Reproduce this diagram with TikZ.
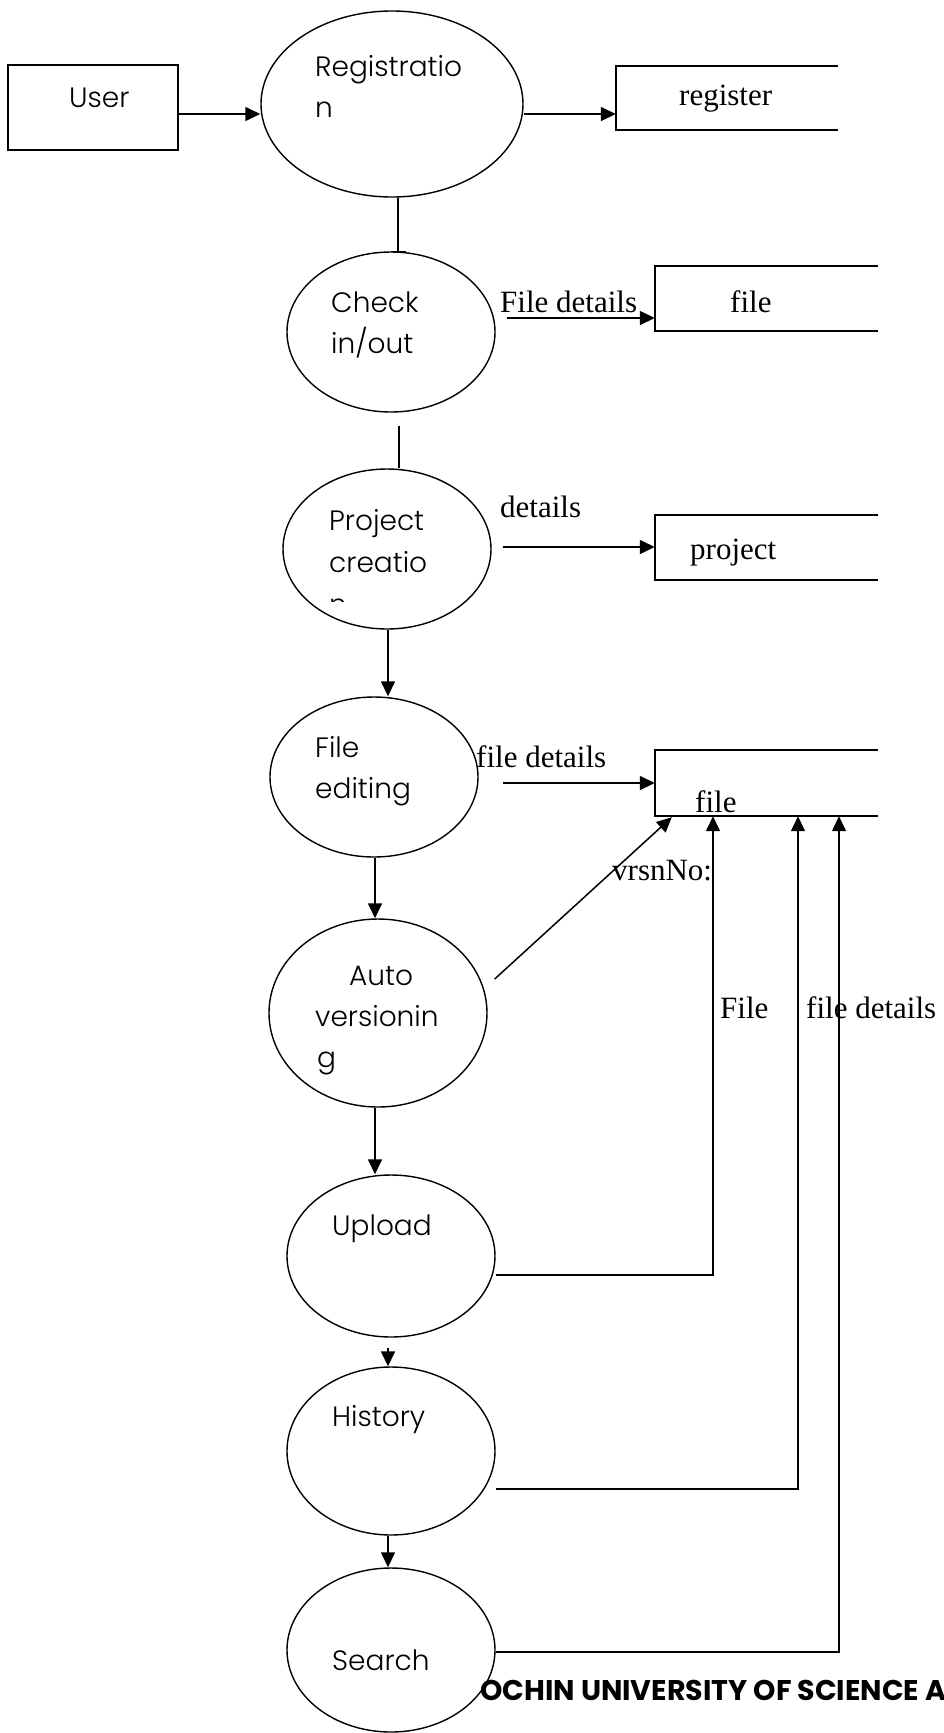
\documentclass[tikz,border=0pt]{standalone}
\usepackage{fontspec}
\setmainfont{Liberation Serif}
\newfontfamily\gothic{Poppins}[UprightFont=* Light, BoldFont=* Bold]
\usetikzlibrary{arrows.meta,calc,shapes.geometric}
\begin{document}
\begin{tikzpicture}[x=1pt,y=-1pt,
  proc/.style={draw, ellipse, line width=1.4pt, inner sep=0pt, fill=white},
  ext/.style={draw, rectangle, line width=1.6pt, inner sep=0pt},
  ptext/.style={font=\gothic\fontsize{28}{32}\selectfont, anchor=base west, inner sep=0pt},
  stext/.style={font=\fontsize{31}{36}\selectfont, anchor=base west, inner sep=0pt},
  btext/.style={font=\gothic\bfseries\fontsize{28.5}{32}\selectfont, anchor=base west, inner sep=0pt},
  storebox/.style={inner sep=0pt, minimum width=223pt, minimum height=65pt},
  storeline/.style={line width=1.8pt},
  flow/.style={line width=1.5pt, -{Triangle[length=15pt,width=14pt]}},
  plain/.style={line width=1.5pt}]
\useasboundingbox (0,0) rectangle (943,1733);

% external entity
\node[ext, minimum width=170pt, minimum height=85pt] (user) at (93,107.5) {};
\node[ptext] (usert) at (69,107) {User};

% processes
\node[proc, minimum width=262pt, minimum height=186pt] (reg) at (392,104) {};
\node[proc, minimum width=208pt, minimum height=160pt] (chk) at (391,332) {};
\node[proc, minimum width=208pt, minimum height=160pt] (prj) at (387,549) {};
\node[proc, minimum width=208pt, minimum height=160pt] (fed) at (374,777) {};
\node[proc, minimum width=218pt, minimum height=188pt] (auto) at (378,1013) {};
\node[proc, minimum width=208pt, minimum height=162pt] (upl) at (391,1256) {};
\node[proc, minimum width=208pt, minimum height=168pt] (hist) at (391,1451) {};
\node[proc, minimum width=208pt, minimum height=164pt] (srch) at (391,1650) {};

% process texts
\node[ptext] (regt1) at (315,76) {Registratio};
\node[ptext] (regt2) at (315,117) {n};
\node[ptext] (chkt1) at (331,312) {Check};
\node[ptext] (chkt2) at (331,353) {in/out};
\node[ptext] (prjt1) at (329,530) {Project};
\node[ptext] (prjt2) at (329,572) {creatio};
\begin{scope}
  \clip (320,590) rectangle (360,601);
  \node[ptext] (prjt3) at (329,614) {n};
\end{scope}
\node[ptext] (fedt1) at (315,757) {File};
\node[ptext] (fedt2) at (315,798) {editing};
\node[ptext] (autot1) at (349,985) {Auto};
\node[ptext] (autot2) at (315,1026) {versionin};
\node[ptext] (autot3) at (317,1067) {g};
\node[ptext] (uplt) at (332,1235) {Upload};
\node[ptext] (histt) at (332,1426) {History};
\node[ptext] (srcht) at (332,1670) {Search};

% data stores
\node[storebox, minimum width=222pt, minimum height=64pt] (register) at (727,98) {};
\node[storebox] (file1) at (766.5,298.5) {};
\node[storebox] (prjstore) at (766.5,547.5) {};
\node[storebox, minimum height=66pt] (file2) at (766.5,783) {};
\foreach \s in {register,file1,prjstore,file2}
  \draw[storeline] (\s.north east) -- (\s.north west) -- (\s.south west) -- (\s.south east);
\node[stext] (registert) at (679,105) {register};
\node[stext] (file1t) at (730,312) {file};
\node[stext] (prjstoret) at (690,559) {project};
\node[stext] (file2t) at (695,812) {file};

% flows
\draw[flow] (user.east |- 0,114) -- (reg.west |- 0,114);
\draw[flow] (reg.east |- 0,114) -- (register.west |- 0,114);
\draw[plain] (reg.south -| 398,0) -- (chk.north -| 398,0);
\draw[plain] (chk.north) -- ++(15,0);
\draw[flow] ($(chk.east)+(11,-14)$) -- (file1.west |- 0,318);
\draw[plain] ($(chk.south)+(8,13)$) -- (prj.north -| 399,0);
\draw[flow] ($(prj.east)+(11,-2)$) -- (prjstore.west |- 0,547);
\draw[flow] (prj.south -| 388,0) -- (fed.north -| 388,0);
\draw[flow] ($(fed.east)+(24,6)$) -- (file2.west);
\draw[flow] (fed.south -| 375,0) -- (auto.north -| 375,0);
\draw[flow] ($(auto.east)+(7,-34)$) -- ($(file2.south west)+(17,1)$);
\draw[flow] (auto.south -| 375,0) -- (upl.north -| 375,0);
\draw[flow] (upl.east |- 0,1275) -| (file2.south -| 713,0);
\draw[flow] ($(upl.south)+(-3,10)$) -- (hist.north -| 388,0);
\draw[flow] (hist.east |- 0,1489) -| (file2.south -| 798,0);
\draw[flow] (hist.south -| 388,0) -- (srch.north -| 388,0);
\draw[flow] (srch.east |- 0,1652) -| (file2.south -| 839,0);

% flow labels
\node[stext] (l1) at (500,312) {File details};
\node[stext] (l2) at (500,517) {details};
\node[stext] (l3) at (476,767) {file details};
\node[stext] (l4) at (612,880) {vrsnNo:};
\node[stext] (l5) at (720,1018) {File};
\node[stext] (l6) at (806,1018) {file details};

% footer text
\node[btext] (footer) at (480,1700) {OCHIN UNIVERSITY OF SCIENCE A};
\end{tikzpicture}
\end{document}
